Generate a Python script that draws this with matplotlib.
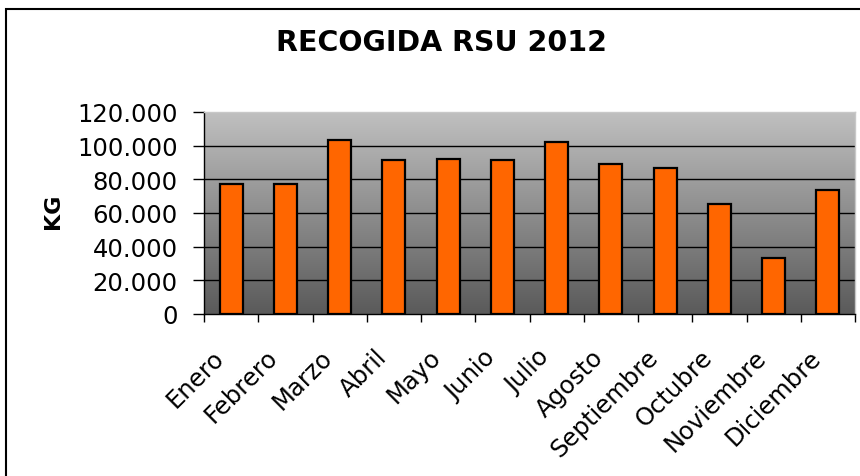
import matplotlib
matplotlib.use("Agg")
import matplotlib.pyplot as plt
import numpy as np
from matplotlib.ticker import FuncFormatter, FixedLocator
from matplotlib.patches import Rectangle
from matplotlib.colors import LinearSegmentedColormap

months = ["Enero", "Febrero", "Marzo", "Abril", "Mayo", "Junio", "Julio",
          "Agosto", "Septiembre", "Octubre", "Noviembre", "Diciembre"]
kg = [77000, 77000, 103400, 91300, 92300, 91300, 102000,
      88900, 86600, 65200, 33100, 73700]
yticks = [0, 20000, 40000, 60000, 80000, 100000, 120000]
title = "RECOGIDA RSU 2012"
ylabel = "KG"

fig = plt.figure(figsize=(8.6, 4.77), dpi=100)
ax = fig.add_axes([204/860, 1-315/477, (855-204)/860, (315-113)/477])

# gradient background
cmap = LinearSegmentedColormap.from_list("g", ["#5a5a5a", "#c0c0c0"])
grad = np.linspace(0, 1, 256).reshape(-1, 1)
ax.imshow(grad, aspect="auto", cmap=cmap, origin="lower",
          extent=[0, 1, 0, 1], transform=ax.transAxes, zorder=0)

x = np.arange(len(months))
ax.bar(x, kg, width=0.42, color="#ff6600", edgecolor="black",
       linewidth=1.6, zorder=3)

ax.set_xlim(-0.5, len(months) - 0.5)
ax.set_ylim(0, 120000)
ax.set_yticks(yticks)
ax.yaxis.set_major_formatter(FuncFormatter(
    lambda v, p: "0" if v == 0 else f"{int(v):,}".replace(",", ".")))
for v in yticks[1:-1]:
    ax.axhline(v, color="black", linewidth=1.0, zorder=1)

# label anchors sit slightly left of each category centre (as in the original)
ax.set_xticks(x - 0.36)
ax.set_xticklabels(months, rotation=45, ha="right", va="top",
                   rotation_mode="anchor", fontsize=17.5)
ax.xaxis.set_minor_locator(FixedLocator(np.arange(-0.5, len(months), 1.0)))
ax.tick_params(axis="x", which="major", length=0, pad=22)
ax.tick_params(axis="x", which="minor", length=6, width=1.0, direction="out")
ax.tick_params(axis="y", length=8, width=1.0, direction="out", labelsize=17.5, pad=11)

for s in ["top", "right"]:
    ax.spines[s].set_color("#c8c8c8")
    ax.spines[s].set_linewidth(1.0)
for s in ["left", "bottom"]:
    ax.spines[s].set_color("black")
    ax.spines[s].set_linewidth(1.0)

fig.text(53/860, 1-211/477, ylabel, rotation=90, ha="center", va="center",
         fontsize=16, fontweight="bold")
fig.text(441.5/860, 1-43/477, title, ha="center", va="center",
         fontsize=20.5, fontweight="bold")

# chart border
fig.patches.append(Rectangle((6/860, -0.1), 1.2, 1.1 - 9.5/477,
                             transform=fig.transFigure, fill=False,
                             edgecolor="black", linewidth=1.5))
fig.savefig("out.png", dpi=100)
